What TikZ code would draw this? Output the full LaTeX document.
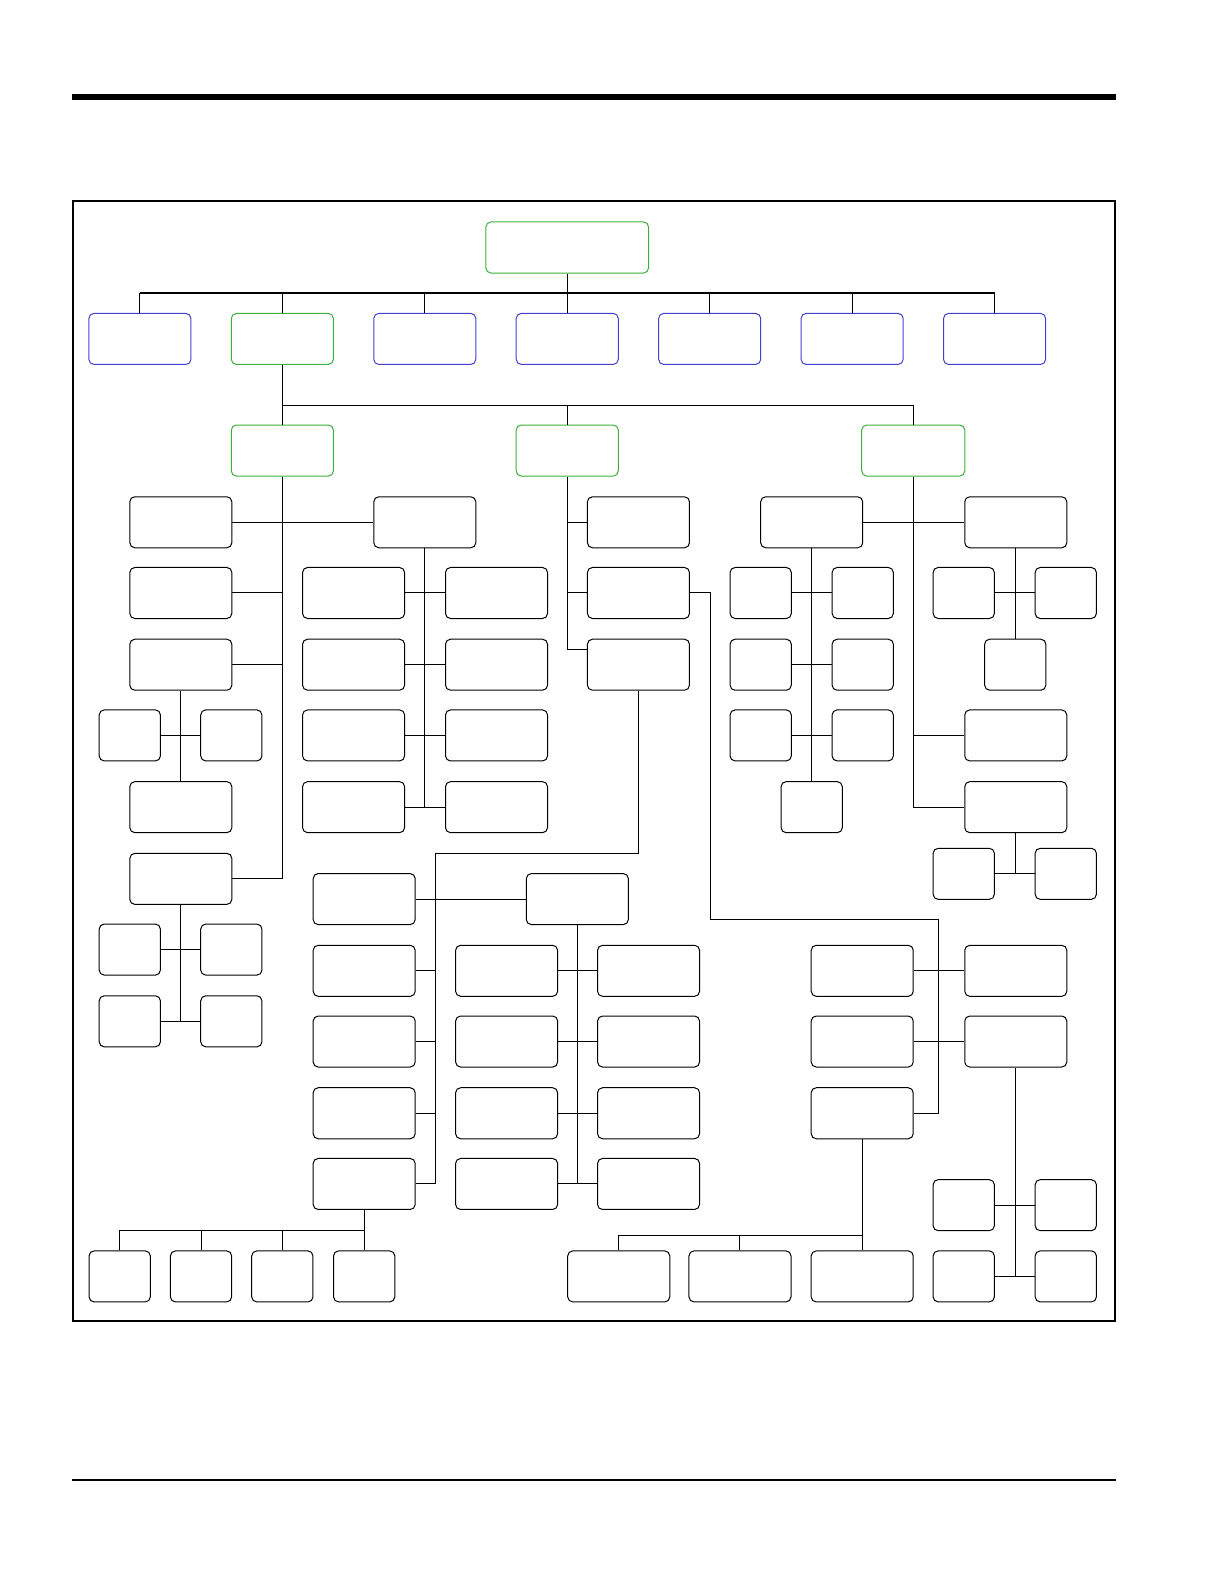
\documentclass[tikz,border=0pt]{standalone}
\usepackage{tikz}
\definecolor{gruen}{HTML}{3CB03C}
\definecolor{blau}{HTML}{4040D0}
\tikzset{
  kasten/.style={draw=black,rounded corners=2.5pt,line width=0.5pt,inner sep=0pt,minimum width=51pt,minimum height=25.5pt},
  kleinkasten/.style={kasten,minimum width=30.6pt},
  gruenkasten/.style={kasten,draw=gruen},
  blaukasten/.style={kasten,draw=blau},
  linie/.style={black,line width=0.5pt},
}

\begin{document}
\begin{tikzpicture}[x=0.50495pt,y=-0.50495pt]
  \useasboundingbox (0,0) rectangle (1212,1568);
  \draw[line width=3pt] (71,96.5)--(1105,96.5);
  \draw[line width=0.9pt] (72,199) rectangle (1104,1308);
  \draw[line width=0.9pt] (71,1465)--(1105,1465);
  % oberste Ebenen
  \node[gruenkasten,minimum width=81.3pt] (top) at (561.5,245) {};
  \foreach \x/\n in {138.5/e1,420.5/e3,561.5/e4,702.5/e5,843.5/e6,984.5/e7}
    \node[blaukasten] (\n) at (\x,335.5) {};
  \node[gruenkasten] (e2) at (279.5,335.5) {};
  \coordinate (bus1) at (0,290);
  \draw[linie,line width=0.7pt] (e1.north |- bus1) -- (e7.north |- bus1);
  \draw[linie] (top.south) -- (top.south |- bus1);
  \foreach \n in {e1,e2,e3,e4,e5,e6,e7}
    \draw[linie] (\n.north) -- (\n.north |- bus1);
  \node[gruenkasten] (ga) at (279.5,446) {};
  \node[gruenkasten] (gb) at (561.5,446) {};
  \node[gruenkasten,minimum width=51.5pt] (gc) at (904,446) {};
  \coordinate (bus2) at (0,401);
  \draw[linie] (e2.south) -- (ga.north);
  \draw[linie] (ga.north |- bus2) -| (gc.north);
  \draw[linie] (gb.north) -- (gb.north |- bus2);
  % Zweig A
  \node[kasten] (a1) at (179,517) {};
  \node[kasten] (a1r) at (420.5,517) {};
  \node[kasten] (a2) at (179,587) {};
  \node[kasten] (a3) at (179,658) {};
  \node[kleinkasten] (a3l) at (128.5,728) {};
  \node[kleinkasten] (a3r) at (229,728) {};
  \node[kasten] (a3d) at (179,799) {};
  \node[kasten] (a4) at (179,870) {};
  \node[kleinkasten] (a4a) at (128.5,940) {};
  \node[kleinkasten] (a4b) at (229,940) {};
  \node[kleinkasten] (a4c) at (128.5,1011) {};
  \node[kleinkasten] (a4d) at (229,1011) {};
  \draw[linie] (ga.south) |- (a4.east);
  \draw[linie] (a1.east) -- (a1r.west);
  \foreach \n in {a2,a3} \draw[linie] (\n.east) -- (\n.east -| ga.south);
  \draw[linie] (a3.south) -- (a3d.north);
  \draw[linie] (a3l.east) -- (a3r.west);
  \draw[linie] (a4.south) -- (a4.south |- a4c.east);
  \draw[linie] (a4a.east) -- (a4b.west);
  \draw[linie] (a4c.east) -- (a4d.west);
  \foreach \y [count=\i] in {587,658,728,799} {
    \node[kasten] (al\i) at (350,\y) {};
    \node[kasten] (ar\i) at (491.5,\y) {};
    \draw[linie] (al\i.east) -- (ar\i.west);
  }
  \draw[linie] (a1r.south) -- (a1r.south |- al4.east);
  % Zweig B
  \node[kasten] (b1) at (632,517) {};
  \node[kasten] (b2) at (632,587) {};
  \node[kasten] (b3) at (632,658) {};
  \draw[linie] (gb.south) |- ([yshift=7.6pt]b3.west);
  \foreach \n in {b1,b2} \draw[linie] (\n.west -| gb.south) -- (\n.west);
  \coordinate (mk) at (431,845);
  \coordinate (rk) at (703,910);
  \coordinate (rs) at (929,910);
  % unten Mitte
  \node[kasten] (m0) at (360.5,890) {};
  \node[kasten] (m0r) at (571.5,890) {};
  \draw[linie] (m0.east) -- (m0r.west);
  \foreach \y [count=\i] in {961,1031,1102,1172} {
    \node[kasten] (m\i) at (360.5,\y) {};
    \node[kasten] (ml\i) at (501.5,\y) {};
    \node[kasten] (mr\i) at (642,\y) {};
    \draw[linie] (ml\i.east) -- (mr\i.west);
  }
  \draw[linie] (b3.south) |- (mk) |- (m4.east);
  \foreach \i in {1,2,3} \draw[linie] (m\i.east) -- (m\i.east -| mk);
  \draw[linie] (m0r.south) -- (m0r.south |- ml4.east);
  \coordinate (mu) at (0,1218);
  \foreach \x [count=\i] in {118.5,199,279.5,360.5} {
    \node[kleinkasten] (u\i) at (\x,1263.5) {};
    \draw[linie] (u\i.north) -- (u\i.north |- mu);
  }
  \draw[linie] (m4.south) |- (u1.north |- mu);
  % unten rechts
  \node[kasten] (r1) at (853.5,961) {};
  \node[kasten] (r1r) at (1005.5,961) {};
  \node[kasten] (r2) at (853.5,1031) {};
  \node[kasten] (r2r) at (1005.5,1031) {};
  \node[kasten] (r3) at (853.5,1102) {};
  \draw[linie] (b2.east) -| (rk) -- (rs) |- (r3.east);
  \draw[linie] (r1.east) -- (r1r.west);
  \draw[linie] (r2.east) -- (r2r.west);
  \node[kleinkasten] (s1) at (954,1193) {};
  \node[kleinkasten] (s2) at (1055,1193) {};
  \node[kleinkasten] (s3) at (954,1263.5) {};
  \node[kleinkasten] (s4) at (1055,1263.5) {};
  \draw[linie] (r2r.south) -- (r2r.south |- s3.east);
  \draw[linie] (s1.east) -- (s2.west);
  \draw[linie] (s3.east) -- (s4.west);
  \coordinate (ru) at (0,1223);
  \foreach \x [count=\i] in {612.5,732.5,853.5}
    \node[kasten] (v\i) at (\x,1263.5) {};
  \draw[linie] (r3.south) -- (v3.north);
  \draw[linie] (v1.north) |- (v3.north |- ru);
  \draw[linie] (v2.north) -- (v2.north |- ru);
  % Zweig C
  \node[kasten] (c1) at (803.5,517) {};
  \node[kasten] (c1r) at (1005.5,517) {};
  \node[kasten] (c2) at (1005.5,728) {};
  \node[kasten] (c3) at (1005.5,799) {};
  \draw[linie] (gc.south) |- (c3.west);
  \draw[linie] (c1.east) -- (c1r.west);
  \draw[linie] (c2.west -| gc.south) -- (c2.west);
  \foreach \y [count=\i] in {587,658,728} {
    \node[kleinkasten] (cl\i) at (753,\y) {};
    \node[kleinkasten] (cr\i) at (854,\y) {};
    \draw[linie] (cl\i.east) -- (cr\i.west);
  }
  \node[kleinkasten] (cd) at (803.5,799) {};
  \draw[linie] (c1.south) -- (cd.north);
  \node[kleinkasten] (k1) at (954,587) {};
  \node[kleinkasten] (k2) at (1055,587) {};
  \node[kleinkasten] (kd) at (1005,658) {};
  \draw[linie] (k1.east) -- (k2.west);
  \draw[linie] (c1r.south) -- (c1r.south |- kd.north);
  \node[kleinkasten] (k3) at (954,865) {};
  \node[kleinkasten] (k4) at (1055,865) {};
  \draw[linie] (k3.east) -- (k4.west);
  \draw[linie] (c3.south) -- (c3.south |- k3.east);
\end{tikzpicture}
\end{document}
